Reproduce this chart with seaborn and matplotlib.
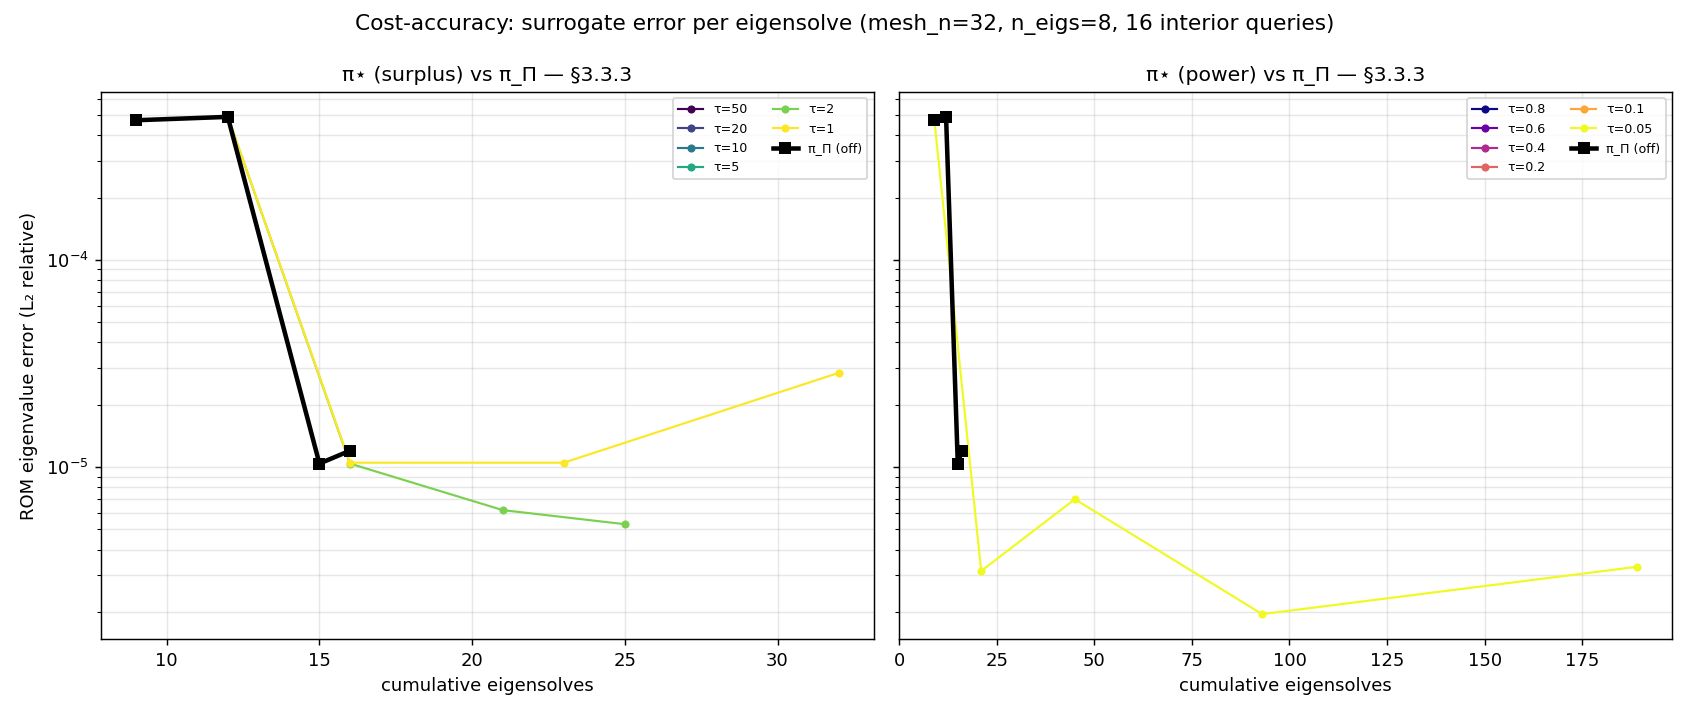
import numpy as np
import pandas as pd
import matplotlib
matplotlib.use("Agg")
import matplotlib.pyplot as plt
import seaborn as sns

# surplus policy (left panel)
surplus_taus = [50, 20, 10, 5, 2, 1]
surplus_x = [
    [9, 12, 15, 16],
    [9, 12, 15, 16],
    [9, 12, 15, 16],
    [9, 12, 15, 16],
    [9, 12, 16, 21, 25],
    [9, 12, 16, 23, 32],
]
surplus_err = [
    [4.73e-4, 4.91e-4, 1.04e-5, 1.20e-5],
    [4.73e-4, 4.91e-4, 1.04e-5, 1.20e-5],
    [4.73e-4, 4.91e-4, 1.04e-5, 1.20e-5],
    [4.73e-4, 4.91e-4, 1.04e-5, 1.20e-5],
    [4.73e-4, 4.91e-4, 1.04e-5, 6.2e-6, 5.3e-6],
    [4.73e-4, 4.91e-4, 1.05e-5, 1.05e-5, 2.85e-5],
]

# power policy (right panel)
power_taus = [0.8, 0.6, 0.4, 0.2, 0.1, 0.05]
power_x = [
    [9, 12, 15, 16],
    [9, 12, 15, 16],
    [9, 12, 15, 16],
    [9, 12, 15, 16],
    [9, 12, 15, 16],
    [9, 21, 45, 93, 189],
]
power_err = [
    [4.73e-4, 4.91e-4, 1.04e-5, 1.20e-5],
    [4.73e-4, 4.91e-4, 1.04e-5, 1.20e-5],
    [4.73e-4, 4.91e-4, 1.04e-5, 1.20e-5],
    [4.73e-4, 4.91e-4, 1.04e-5, 1.20e-5],
    [4.73e-4, 4.91e-4, 1.04e-5, 1.20e-5],
    [4.73e-4, 3.15e-6, 7.0e-6, 1.95e-6, 3.3e-6],
]

# offline baseline pi_Pi
off_x = [9, 12, 15, 16]
off_err = [4.73e-4, 4.91e-4, 1.04e-5, 1.20e-5]

fig, axes = plt.subplots(1, 2, figsize=(13, 5.5), dpi=130, sharey=True)


def draw_panel(ax, taus, xs, errs, cmap, title):
    colors = plt.get_cmap(cmap)(np.linspace(0, 1, len(taus)))
    for tau, x, e, c in zip(taus, xs, errs, colors):
        df = pd.DataFrame({"x": x, "err": e})
        sns.lineplot(data=df, x="x", y="err", ax=ax, color=c, marker="o",
                     markersize=4.5, markeredgewidth=0, linewidth=1.2,
                     sort=False, estimator=None, label=f"τ={tau:g}")
    df_off = pd.DataFrame({"x": off_x, "err": off_err})
    sns.lineplot(data=df_off, x="x", y="err", ax=ax, color="black", marker="s",
                 markersize=6.5, markeredgewidth=0, linewidth=2.5,
                 sort=False, estimator=None, label="π_Π (off)")
    ax.set_yscale("log")
    ax.set_title(title, fontsize=11.3)
    ax.set_xlabel("cumulative eigensolves")
    ax.grid(True, which="both", alpha=0.3)
    ax.legend(ncol=2, fontsize=7, loc="upper right")


draw_panel(axes[0], surplus_taus, surplus_x, surplus_err, "viridis",
           "π⋆ (surplus) vs π_Π — §3.3.3")
draw_panel(axes[1], power_taus, power_x, power_err, "plasma",
           "π⋆ (power) vs π_Π — §3.3.3")
axes[0].set_ylabel("ROM eigenvalue error (L₂ relative)")
axes[1].set_xlim(0, None)

fig.suptitle("Cost-accuracy: surrogate error per eigensolve (mesh_n=32, n_eigs=8, 16 interior queries)",
             fontsize=12)
fig.subplots_adjust(left=0.0598, right=0.9893, top=0.8713, bottom=0.1063, wspace=0.033)
fig.savefig("out.png", dpi=130)
